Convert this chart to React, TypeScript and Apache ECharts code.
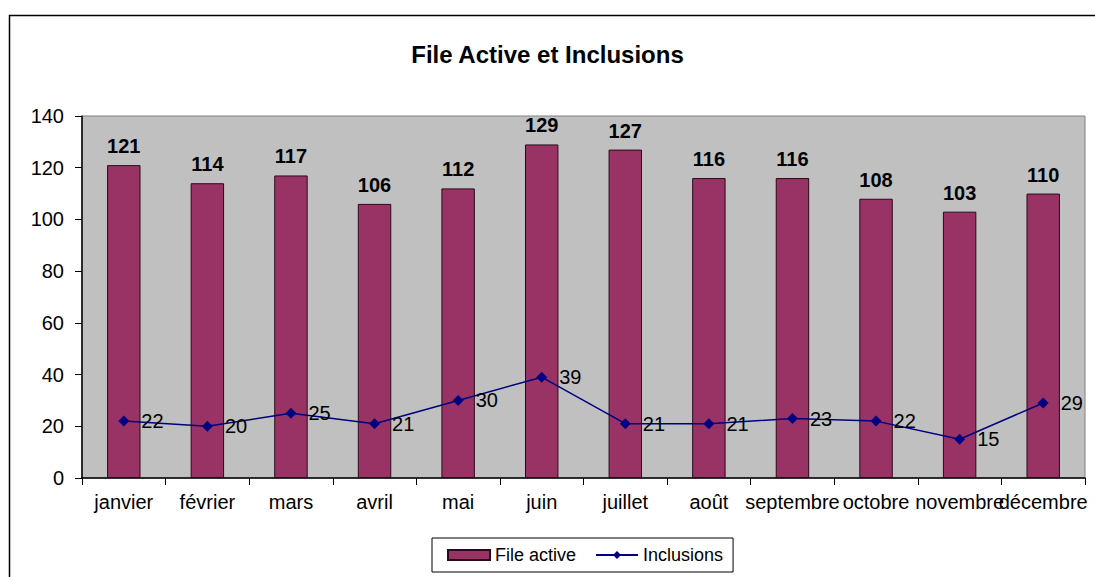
import React, { useEffect, useRef } from "react";
import * as echarts from "echarts";

const months = ["janvier", "février", "mars", "avril", "mai", "juin", "juillet", "août", "septembre", "octobre", "novembre", "décembre"];
const fileActive = [121, 114, 117, 106, 112, 129, 127, 116, 116, 108, 103, 110];
const inclusions = [22, 20, 25, 21, 30, 39, 21, 21, 23, 22, 15, 29];
const yTicks = { min: 0, max: 140, interval: 20 };

export default function App() {
  const ref = useRef<HTMLDivElement>(null);
  useEffect(() => {
    document.body.style.margin = "0";
    const chart = echarts.init(ref.current!, null, { renderer: "svg" });
    const font = "Arial, 'Liberation Sans', sans-serif";
    chart.setOption({
      animation: false,
      backgroundColor: "#ffffff",
      textStyle: { fontFamily: font },
      graphic: [
        {
          type: "rect",
          shape: { x: 9.5, y: 15.5, width: 1100, height: 600 },
          style: { fill: "none", stroke: "#000", lineWidth: 1.5 },
          z: -1,
        },
      ],
      title: {
        text: "File Active et Inclusions",
        left: "center",
        top: 37,
        textStyle: { fontFamily: font, fontSize: 24, fontWeight: "bold", color: "#000" },
      },
      legend: {
        bottom: 5,
        left: 432,
        padding: [8, 10, 8, 15],
        borderColor: "#000",
        borderWidth: 1,
        itemGap: 19,
        itemWidth: 42,
        itemHeight: 10,
        textStyle: { fontFamily: font, fontSize: 18, color: "#000" },
        data: [
          { name: "File active", icon: "rect" },
          { name: "Inclusions" },
        ],
      },
      grid: {
        left: 82,
        right: 10,
        top: 116,
        bottom: 99,
        show: true,
        backgroundColor: "#c0c0c0",
        borderColor: "#808080",
        borderWidth: 1,
      },
      xAxis: {
        type: "category",
        data: months,
        axisLine: { lineStyle: { color: "#000", width: 1.5 } },
        axisTick: { show: true, alignWithLabel: false, length: 7, lineStyle: { color: "#000" } },
        axisLabel: { interval: 0, fontFamily: font, fontSize: 20, color: "#000", margin: 14 },
      },
      yAxis: {
        type: "value",
        ...yTicks,
        splitLine: { show: false },
        axisLine: { show: true, lineStyle: { color: "#000", width: 1.5 } },
        axisTick: { show: true, length: 7, lineStyle: { color: "#000" } },
        axisLabel: { fontFamily: font, fontSize: 20, color: "#000", margin: 18 },
      },
      series: [
        {
          name: "File active",
          type: "bar",
          data: fileActive,
          barWidth: "40%",
          itemStyle: { color: "#993366", borderColor: "#2a0a18", borderWidth: 1 },
          label: {
            show: true,
            position: "top",
            distance: 9,
            fontFamily: font,
            fontSize: 20,
            fontWeight: "bold",
            color: "#000",
          },
        },
        {
          name: "Inclusions",
          type: "line",
          data: inclusions,
          symbol: "diamond",
          symbolSize: 11,
          lineStyle: { color: "#000080", width: 1.5 },
          itemStyle: { color: "#000080" },
          label: {
            show: true,
            position: "right",
            distance: 12,
            fontFamily: font,
            fontSize: 20,
            color: "#000",
          },
        },
      ],
    });
    return () => chart.dispose();
  }, []);
  return <div ref={ref} style={{ width: 1095, height: 577 }} />;
}
